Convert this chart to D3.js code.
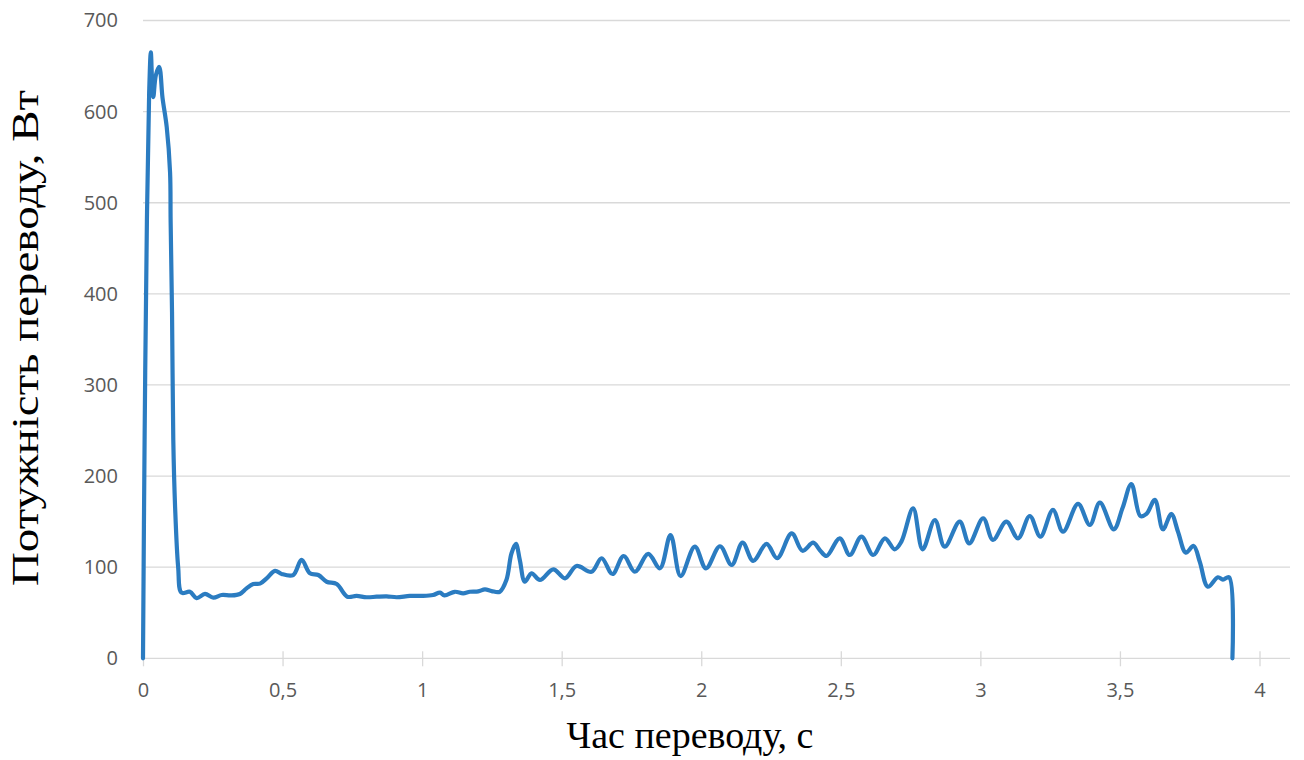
<!DOCTYPE html>
<html>
<head>
<meta charset="utf-8">
<script src="https://cdn.jsdelivr.net/npm/d3@7"></script>
<style>
html,body{margin:0;padding:0;background:#fff;}
svg{display:block;}
</style>
</head>
<body>
<svg id="chart" width="1304" height="760"></svg>
<script>
// Time (s)
const timeS = [0,0.006,0.014,0.022,0.028,0.033,0.037,0.046,0.058,0.07,0.085,0.097,0.099,0.104,0.1085,0.115,0.126,0.138,
0.168,0.192,0.222,0.252,0.282,0.315,0.347,0.371,0.395,0.419,0.443,0.473,0.497,0.538,0.568,0.598,0.628,0.658,0.694,0.732,
0.765,0.801,0.837,0.873,0.909,0.956,1.0,1.039,1.064,1.080,1.117,1.147,1.171,1.201,1.225,1.249,1.278,1.302,1.320,1.336,
1.350,1.368,1.392,1.422,1.470,1.512,1.553,1.607,1.643,1.682,1.722,1.762,1.810,1.852,1.890,1.926,1.977,2.017,2.067,2.109,
2.148,2.186,2.234,2.272,2.324,2.363,2.401,2.425,2.449,2.496,2.532,2.574,2.616,2.658,2.693,2.717,2.759,2.793,2.837,2.872,
2.926,2.960,3.010,3.045,3.093,3.135,3.177,3.215,3.260,3.296,3.350,3.392,3.428,3.478,3.509,3.541,3.573,3.595,3.625,3.654,
3.684,3.708,3.736,3.764,3.786,3.815,3.851,3.869,3.891,3.903];
// Power (W)
const powerW = [0,250,480,620,665,630,616,640,649,615,583,533,480,380,240,166,100,72,
73,66,70.6,66.5,69.5,69,70.6,76.8,81.5,82,87.8,96,92.5,91.4,108,93.3,91.4,84,81.5,67.6,
68.5,67,67.6,68,67,68.5,68.5,69.5,72,69,73,71.3,73,73.4,75.6,73.8,73,86,115,125.5,
108,84,93.3,86,97.7,87.8,101.3,95,109.8,92.5,112.3,95,114.5,98.8,135.3,90.3,122.5,98.8,123,102.4,
126.9,107,125.5,109.8,137,118,126.9,118.7,112.3,131.7,113.4,133.5,113.4,131.7,119.6,128,164.6,119.6,151.8,122.5,
150,126.2,153.7,129.9,150,131.7,156.2,133.5,162.8,139,169.4,146.3,170.8,141.6,164.6,191.3,156.2,158.4,173.8,141.6,
158.4,139,116,123.3,106,78.6,88.9,86.4,88.9,0];

const xTicks = [0,0.5,1,1.5,2,2.5,3,3.5,4];
const yTicks = [0,100,200,300,400,500,600,700];
const xTitle = "Час переводу, с";
const yTitle = "Потужність переводу, Вт";

const svg = d3.select("#chart");
const x = d3.scaleLinear().domain([0,4]).range([143,1259.5]);
const y = d3.scaleLinear().domain([0,700]).range([658.3,20.5]);
const gridRight = 1290;
const tickFont = "'Open Sans', 'Liberation Sans', sans-serif";

// gridlines
svg.append("g").selectAll("line").data(yTicks.filter(d=>d>0)).join("line")
  .attr("x1",x(0)).attr("x2",gridRight)
  .attr("y1",d=>y(d)).attr("y2",d=>y(d))
  .attr("stroke","#d9d9d9").attr("stroke-width",1.3);

// x axis
const xAxis = d3.axisBottom(x).tickValues(xTicks).tickSize(8).tickPadding(17)
  .tickFormat(d=>String(d).replace(".",","));
const gx = svg.append("g").attr("transform",`translate(0,${y(0)})`).call(xAxis);
gx.select(".domain").remove();
gx.insert("line",":first-child").attr("x1",x(0)).attr("x2",gridRight).attr("y1",0).attr("y2",0)
  .attr("stroke","#d9d9d9").attr("stroke-width",1.3);
gx.selectAll(".tick line").attr("y1",-7).attr("stroke","#d9d9d9").attr("stroke-width",1.3);
gx.selectAll(".tick text").attr("fill","#595959").style("font-family",tickFont).style("font-size","20px");

// y axis
const yAxis = d3.axisLeft(y).tickValues(yTicks).tickSize(0).tickPadding(25);
const gy = svg.append("g").attr("transform",`translate(${x(0)},0)`).call(yAxis);
gy.select(".domain").remove();
gy.selectAll(".tick text").attr("fill","#595959").style("font-family",tickFont).style("font-size","20px");

// line
const data = timeS.map((t,i)=>({t, p: powerW[i]}));
const line = d3.line().x(d=>x(d.t)).y(d=>y(d.p)).curve(d3.curveCatmullRom.alpha(0.5));
svg.append("path").datum(data).attr("d",line)
  .attr("fill","none").attr("stroke","#2b7cc1").attr("stroke-width",4.2)
  .attr("stroke-linejoin","round").attr("stroke-linecap","round");

// titles
svg.append("text").attr("x",690).attr("y",748).attr("text-anchor","middle")
  .style("font-family","'Liberation Serif', 'Times New Roman', serif").style("font-size","38px").attr("fill","#000")
  .text(xTitle);
svg.append("text").attr("transform","translate(38,338) rotate(-90)").attr("text-anchor","middle")
  .style("font-family","'Liberation Serif', 'Times New Roman', serif").style("font-size","38px").attr("fill","#000")
  .attr("textLength",496).attr("lengthAdjust","spacingAndGlyphs")
  .text(yTitle);
</script>
</body>
</html>
